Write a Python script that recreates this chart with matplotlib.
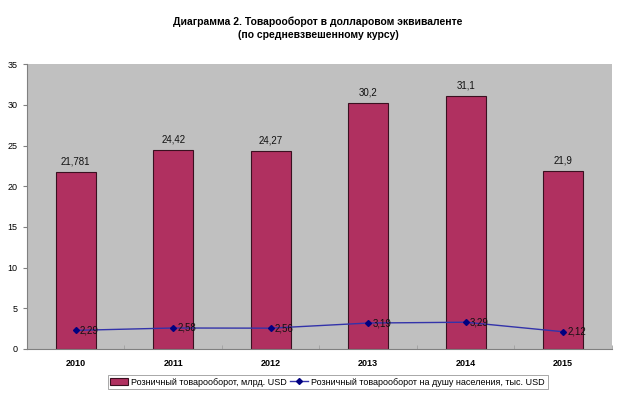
import matplotlib
matplotlib.use("Agg")
import matplotlib.pyplot as plt
import numpy as np

years = ["2010", "2011", "2012", "2013", "2014", "2015"]
retail = [21.781, 24.42, 24.27, 30.2, 31.1, 21.9]
retail_labels = ["21,781", "24,42", "24,27", "30,2", "31,1", "21,9"]
percap = [2.29, 2.58, 2.56, 3.19, 3.29, 2.12]
percap_labels = ["2,29", "2,58", "2,56", "3,19", "3,29", "2,12"]
yticks = [0, 5, 10, 15, 20, 25, 30, 35]

plt.rcParams['font.family'] = ['Liberation Sans', 'DejaVu Sans']

fig = plt.figure(figsize=(6.36, 3.96), dpi=100)
ax = fig.add_axes([0.0425, 0.1187, 0.9195, 0.7193])
ax.set_facecolor('#C0C0C0')
x = np.arange(len(years))
bars = ax.bar(x, retail, width=0.41, color='#B03060', edgecolor='#3a1020', linewidth=0.8,
              label='Розничный товарооборот, млрд. USD', zorder=2)
line, = ax.plot(x, percap, color='#3333AA', linewidth=1.0, marker='D', markersize=3,
                markerfacecolor='#000080', markeredgecolor='#000080',
                label='Розничный товарооборот на душу населения, тыс. USD', zorder=3)
for xi, v, l in zip(x, retail, retail_labels):
    ax.annotate(l, (xi, v), xytext=(0, 4), textcoords='offset points', ha='center', va='bottom',
                fontsize=7, color='#111111')
for xi, v, l in zip(x, percap, percap_labels):
    ax.annotate(l, (xi, v), xytext=(3, 0), textcoords='offset points', ha='left', va='center',
                fontsize=7, color='#111111')

ax.set_xlim(-0.5, len(years) - 0.5)
ax.set_ylim(0, 35)
ax.set_yticks(yticks)
ax.set_yticklabels([str(t) for t in yticks], fontsize=6.5)
ax.set_xticks(x)
ax.set_xticklabels(years, fontsize=6.5, fontweight='bold')
ax.set_xticks(np.arange(-0.5, len(years)), minor=True)
ax.tick_params(axis='x', which='major', length=0, pad=7)
ax.tick_params(axis='x', which='minor', length=3, color='#a0a0a0', direction='in')
ax.tick_params(axis='y', length=3, color='#808080', pad=4)
for s in ['top', 'right']:
    ax.spines[s].set_visible(False)
ax.spines['left'].set_color('#808080')
ax.spines['bottom'].set_color('#808080')

fig.text(0.5, 0.945, 'Диаграмма 2. Товарооборот в долларовом эквиваленте', ha='center', va='center',
         fontsize=7.5, fontweight='bold')
fig.text(0.5, 0.912, '(по средневзвешенному курсу)', ha='center', va='center',
         fontsize=7.5, fontweight='bold')

leg = fig.legend(handles=[bars, line], loc='center', bbox_to_anchor=(0.515, 0.035), ncol=2,
                 fontsize=6.5, frameon=True, fancybox=False, edgecolor='#808080',
                 handlelength=2.0, handleheight=0.7, columnspacing=0.4, handletextpad=0.3,
                 borderpad=0.3, borderaxespad=0)
leg.get_frame().set_linewidth(0.6)
fig.savefig('out.png', dpi=100, facecolor='white')
